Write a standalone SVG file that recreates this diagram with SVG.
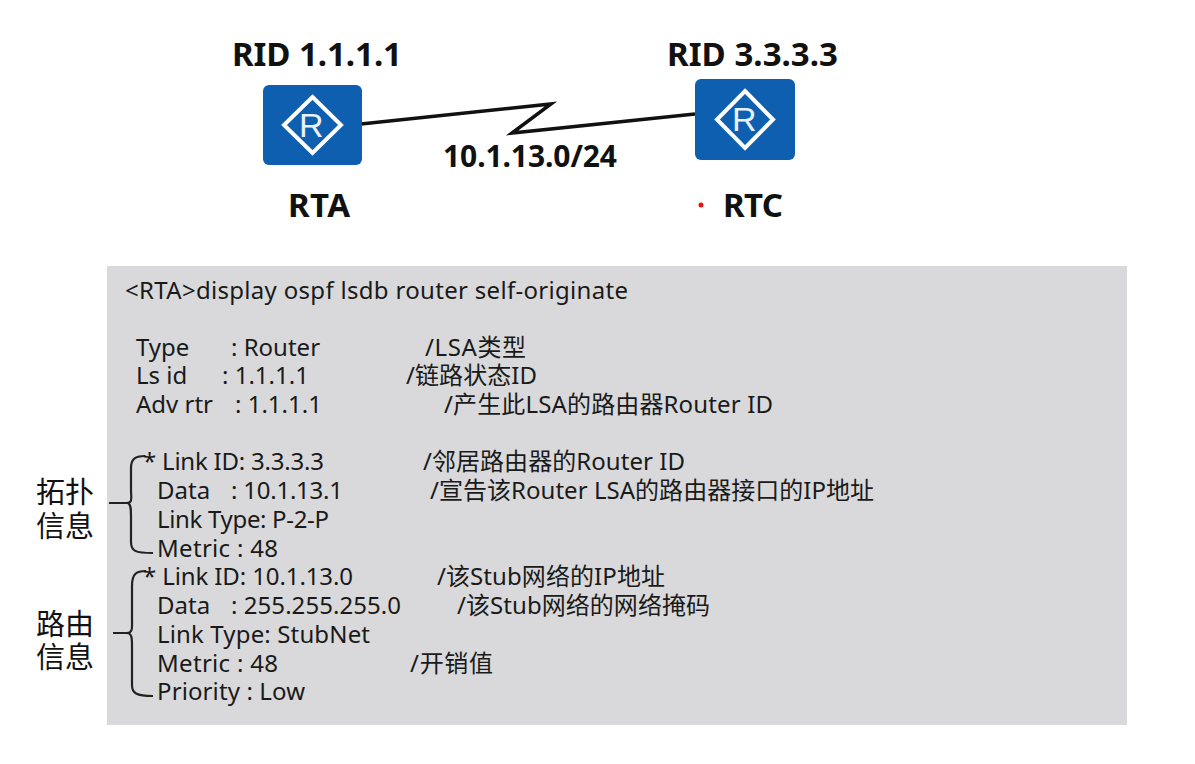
<svg xmlns="http://www.w3.org/2000/svg" width="1195" height="764" viewBox="0 0 1195 764">
<style>
text{fill:#1a1a1a}
.t{font-size:24px;font-family:"Noto Sans","Noto Sans CJK SC",sans-serif}
.b{font-size:33px;font-weight:700;font-family:"Noto Sans","Noto Sans CJK SC",sans-serif;fill:#111}
.s{font-size:29px;font-family:"Noto Sans CJK SC",sans-serif;fill:#111}
.box{fill:#0f5fb0}
.sym{fill:none;stroke:#fff;stroke-width:4}
.rr{font-size:34px;font-family:"Liberation Sans",sans-serif;fill:#e8f0f8}
.c{fill:none;stroke:#111;stroke-width:3.5;stroke-linejoin:miter}
.br{fill:none;stroke:#222;stroke-width:2.2}
</style>
<rect x="107" y="266" width="1020" height="459" fill="#d9d9db"/>
<g id="connectors">
<path class="c" d="M361 124L551 104L512 133L695 114"/>
<path class="br" d="M109 503H127C133 503 131 497 131 490V468C131 460 134 456 145 456"/>
<path class="br" d="M127 503C131 503 131 509 131 516V542C131 551 135 553 153 553"/>
<path class="br" d="M113 633H127C133 633 132 627 132 620V586C132 574 136 571 146 571"/>
<path class="br" d="M127 633C132 633 132 639 132 646V685C132 693 136 696 153 696"/>
</g>
<g id="RTA">
<rect class="box" x="263" y="85" width="99" height="80" rx="6"/>
<path class="sym" d="M312.500 97L341 125L312.500 153L284 125Z"/>
<text class="rr" x="299" y="137">R</text>
<text class="b" x="232" y="66" textLength="170">RID 1.1.1.1</text>
<text class="b" x="288" y="217" textLength="62">RTA</text>
</g>
<g id="RTC">
<rect class="box" x="695" y="79" width="100" height="81" rx="6"/>
<path class="sym" d="M745 91L773 119.500L745 148L717 119.500Z"/>
<text class="rr" x="732" y="131">R</text>
<text class="b" x="667" y="66" textLength="171">RID 3.3.3.3</text>
<text class="b" x="723" y="217" textLength="60">RTC</text>
<circle cx="701" cy="205" r="2.500" fill="#e8140c"/>
</g>
<g id="link-label"><text class="b" x="443" y="167" style="font-size:30px" textLength="174">10.1.13.0/24</text></g>
<g id="side-labels">
<text class="s" x="36" y="503">拓扑</text>
<text class="s" x="36" y="537">信息</text>
<text class="s" x="36" y="635">路由</text>
<text class="s" x="36" y="668">信息</text>
</g>
<g id="console">
<text class="t" x="125" y="299" textLength="503">&lt;RTA&gt;display ospf lsdb router self-originate</text>
<text class="t" x="136" y="356">Type</text><text class="t" x="231" y="356">: Router</text><text class="t" x="425" y="356" textLength="101">/LSA类型</text>
<text class="t" x="136" y="384">Ls id</text><text class="t" x="222" y="384">: 1.1.1.1</text><text class="t" x="406" y="384" textLength="131">/链路状态ID</text>
<text class="t" x="136" y="413">Adv rtr</text><text class="t" x="235" y="413">: 1.1.1.1</text><text class="t" x="444" y="413" textLength="329">/产生此LSA的路由器Router ID</text>
<text class="t" x="143" y="470" textLength="181">* Link ID: 3.3.3.3</text><text class="t" x="423" y="470" textLength="262">/邻居路由器的Router ID</text>
<text class="t" x="157" y="499">Data</text><text class="t" x="231" y="499" textLength="112">: 10.1.13.1</text><text class="t" x="430" y="499" textLength="444">/宣告该Router LSA的路由器接口的IP地址</text>
<text class="t" x="157" y="528" textLength="172">Link Type: P-2-P</text>
<text class="t" x="157" y="557" textLength="121">Metric : 48</text>
<text class="t" x="143" y="585" textLength="210">* Link ID: 10.1.13.0</text><text class="t" x="437" y="585" textLength="228">/该Stub网络的IP地址</text>
<text class="t" x="157" y="614">Data</text><text class="t" x="231" y="614" textLength="170">: 255.255.255.0</text><text class="t" x="457" y="614" textLength="253">/该Stub网络的网络掩码</text>
<text class="t" x="157" y="643" textLength="213">Link Type: StubNet</text>
<text class="t" x="157" y="672" textLength="121">Metric : 48</text><text class="t" x="410" y="672" textLength="83">/开销值</text>
<text class="t" x="157" y="700" textLength="148">Priority : Low</text>
</g>
</svg>
